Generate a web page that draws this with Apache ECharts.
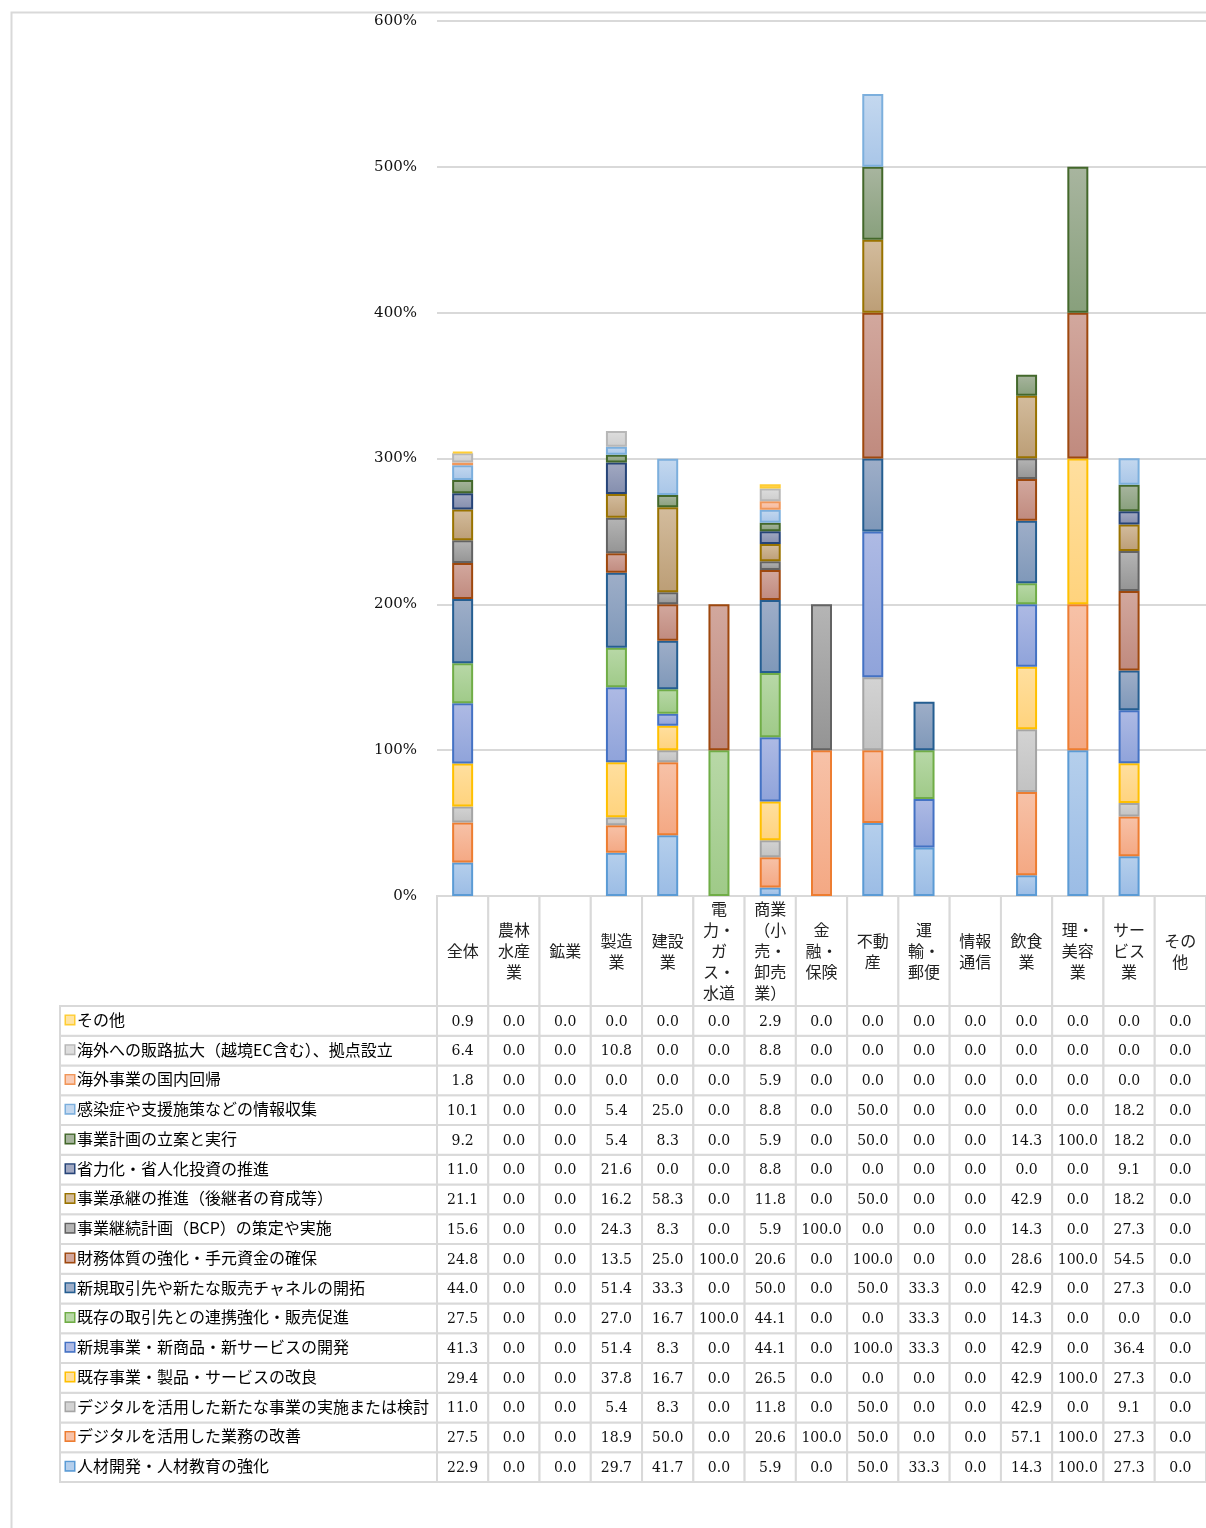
<!DOCTYPE html>
<html>
<head>
<meta charset="utf-8">
<script src="https://cdn.jsdelivr.net/npm/echarts@6.0.0/dist/echarts.min.js"></script>
<style>
html,body{margin:0;padding:0;background:#fff;}
#chart{width:1206px;height:1528px;}
</style>
</head>
<body>
<div id="chart"></div>
<script>
// ---- categories / tick labels ----
const categories = ['全体','農林水産業','鉱業','製造業','建設業','電力・ガス・水道','商業（小売・卸売業）','金融・保険','不動産','運輸・郵便','情報通信','飲食業','理・美容業','サービス業','その他'];
const headerLabels = ['全体','農林\n水産\n業','鉱業','製造\n業','建設\n業','電\n力・\nガ\nス・\n水道','商業\n（小\n売・\n卸売\n業）','金\n融・\n保険','不動\n産','運\n輸・\n郵便','情報\n通信','飲食\n業','理・\n美容\n業','サー\nビス\n業','その\n他'];
const yTickMax = 600;
const yTickStep = 100;

// ---- series values (%), one array per series, in category order ----
const jinzai       = [22.9,0,0,29.7,41.7,0,5.9,0,50.0,33.3,0,14.3,100.0,27.3,0];
const digiGyomu    = [27.5,0,0,18.9,50.0,0,20.6,100.0,50.0,0,0,57.1,100.0,27.3,0];
const digiJigyo    = [11.0,0,0,5.4,8.3,0,11.8,0,50.0,0,0,42.9,0,9.1,0];
const kizonKairyo  = [29.4,0,0,37.8,16.7,0,26.5,0,0,0,0,42.9,100.0,27.3,0];
const shinkiJigyo  = [41.3,0,0,51.4,8.3,0,44.1,0,100.0,33.3,0,42.9,0,36.4,0];
const kizonTorihiki= [27.5,0,0,27.0,16.7,100.0,44.1,0,0,33.3,0,14.3,0,0,0];
const shinkiTorihiki=[44.0,0,0,51.4,33.3,0,50.0,0,50.0,33.3,0,42.9,0,27.3,0];
const zaimu        = [24.8,0,0,13.5,25.0,100.0,20.6,0,100.0,0,0,28.6,100.0,54.5,0];
const bcp          = [15.6,0,0,24.3,8.3,0,5.9,100.0,0,0,0,14.3,0,27.3,0];
const shokei       = [21.1,0,0,16.2,58.3,0,11.8,0,50.0,0,0,42.9,0,18.2,0];
const shoryoku     = [11.0,0,0,21.6,0,0,8.8,0,0,0,0,0,0,9.1,0];
const keikaku      = [9.2,0,0,5.4,8.3,0,5.9,0,50.0,0,0,14.3,100.0,18.2,0];
const kansen       = [10.1,0,0,5.4,25.0,0,8.8,0,50.0,0,0,0,0,18.2,0];
const kaiki        = [1.8,0,0,0,0,0,5.9,0,0,0,0,0,0,0,0];
const kaigai       = [6.4,0,0,10.8,0,0,8.8,0,0,0,0,0,0,0,0];
const sonota       = [0.9,0,0,0,0,0,2.9,0,0,0,0,0,0,0,0];

// stacking order: bottom -> top
const seriesNames = [
  '人材開発・人材教育の強化',
  'デジタルを活用した業務の改善',
  'デジタルを活用した新たな事業の実施または検討',
  '既存事業・製品・サービスの改良',
  '新規事業・新商品・新サービスの開発',
  '既存の取引先との連携強化・販売促進',
  '新規取引先や新たな販売チャネルの開拓',
  '財務体質の強化・手元資金の確保',
  '事業継続計画（BCP）の策定や実施',
  '事業承継の推進（後継者の育成等）',
  '省力化・省人化投資の推進',
  '事業計画の立案と実行',
  '感染症や支援施策などの情報収集',
  '海外事業の国内回帰',
  '海外への販路拡大（越境EC含む）、拠点設立',
  'その他'
];
const seriesValues = [jinzai, digiGyomu, digiJigyo, kizonKairyo, shinkiJigyo, kizonTorihiki, shinkiTorihiki, zaimu, bcp, shokei, shoryoku, keikaku, kansen, kaiki, kaigai, sonota];

// ---- styles ----
const fillTop    = ['#b5cfec','#f7c2a8','#d3d3d3','#ffdf9f','#aebae4','#b8d8a7','#9eaec8','#d2a89e','#b5b5b5','#d3bc9d','#a2a9c2','#a8b59f','#c4d8ef','#f9cdb8','#dedede','#ffe4a3'];
const fillBottom = ['#9bbce5','#f4a883','#c2c2c2','#ffd37d','#8fa3da','#9fca88','#7f98b9','#c08a7e','#949494','#bc9e76','#848eae','#88a07c','#a9c6e8','#f6b799','#cdcdcd','#ffd87c'];
const borderCols = ['#5b9bd5','#ed7d31','#a5a5a5','#ffc000','#4472c4','#70ad47','#255e91','#9e480e','#636363','#997300','#264478','#43682b','#7cafdd','#f1975a','#b7b7b7','#ffcd33'];
const gridColor = '#d9d9d9';
const numFont = '"DejaVu Serif", "Liberation Serif", serif';
const cjkFont = '"Noto Sans CJK JP", "Noto Sans", sans-serif';

const chart = echarts.init(document.getElementById('chart'), null, {renderer:'canvas'});

function grad(i){
  return {type:'linear', x:0, y:0, x2:0, y2:1, colorStops:[{offset:0,color:fillTop[i]},{offset:1,color:fillBottom[i]}]};
}

const barSeries = seriesNames.map((name, i) => ({
  name: name,
  type: 'bar',
  stack: 'total',
  xAxisIndex: 0,
  yAxisIndex: 0,
  barWidth: 21,
  data: seriesValues[i].map(v => v === 0 ? null : v),
  itemStyle: { color: grad(i), borderColor: borderCols[i], borderWidth: 2 },
  z: 3
}));

function cellRect(c, s){
  return {type:'rect', shape:{x:c[0]-s[0]/2, y:c[1]-s[1]/2, width:s[0], height:s[1]},
    style:{fill:'#fff', stroke:gridColor, lineWidth:2}};
}

// header cells
const headerData = categories.map((c, j) => [j, 0]);
const headerSeries = {
  type:'custom', xAxisIndex:1, yAxisIndex:1, encode:{x:0,y:1},
  data: headerData,
  renderItem: function(params, api){
    const c = api.coord([api.value(0), api.value(1)]);
    const s = api.size([1,1]);
    return {type:'group', children:[
      cellRect(c, s),
      {type:'text', style:{text: headerLabels[params.dataIndex], x:c[0], y:c[1], align:'center', verticalAlign:'middle',
        fontFamily: cjkFont, fontSize:16, lineHeight:21, fill:'#222'}}
    ]};
  }
};

// value cells
const valueData = [];
seriesValues.forEach((arr, i) => arr.forEach((v, j) => valueData.push([j, i, v])));
const valueSeries = {
  type:'custom', xAxisIndex:2, yAxisIndex:2, encode:{x:0,y:1},
  data: valueData,
  renderItem: function(params, api){
    const c = api.coord([api.value(0), api.value(1)]);
    const s = api.size([1,1]);
    return {type:'group', children:[
      cellRect(c, s),
      {type:'text', style:{text: api.value(2).toFixed(1), x:c[0], y:c[1]+1, align:'center', verticalAlign:'middle',
        fontFamily: numFont, fontSize:14, fill:'#111'}}
    ]};
  }
};

// name cells with legend keys
const rich = { t: { fontFamily: cjkFont, fontSize: 16, color:'#222', padding:[0,0,0,3] } };
seriesNames.forEach((n, i) => {
  rich['k'+i] = { width:8, height:8, backgroundColor: fillTop[i], borderColor: borderCols[i], borderWidth:1.5 };
});
const nameData = seriesNames.map((n, i) => [0, i]);
const nameSeries = {
  type:'custom', xAxisIndex:3, yAxisIndex:3, encode:{x:0,y:1},
  data: nameData,
  renderItem: function(params, api){
    const c = api.coord([api.value(0), api.value(1)]);
    const s = api.size([1,1]);
    const i = params.dataIndex;
    return {type:'group', children:[
      cellRect(c, s),
      {type:'text', style:{text: '{k'+i+'|}{t|'+seriesNames[i]+'}', rich: rich, x:c[0]-s[0]/2+6, y:c[1]-1, align:'left', verticalAlign:'middle'}}
    ]};
  }
};

const hiddenAxis = { axisLine:{show:false}, axisTick:{show:false}, axisLabel:{show:false}, splitLine:{show:false} };

const option = {
  animation: false,
  backgroundColor: '#fff',
  graphic: [{
    type:'rect', left:9, top:10, z:-10,
    shape:{x:0, y:0, width:1230, height:1550},
    style:{fill:'none', stroke:gridColor, lineWidth:2}
  }],
  grid: [
    {left:437, top:21, width:769, height:875},
    {left:437, top:896, width:769, height:110},
    {left:437, top:1006, width:769, height:476},
    {left:60, top:1006, width:377, height:476}
  ],
  xAxis: [
    Object.assign({type:'category', gridIndex:0, data:categories}, hiddenAxis),
    Object.assign({type:'category', gridIndex:1, data:categories}, hiddenAxis),
    Object.assign({type:'category', gridIndex:2, data:categories}, hiddenAxis),
    Object.assign({type:'category', gridIndex:3, data:['']}, hiddenAxis)
  ],
  yAxis: [
    {type:'value', gridIndex:0, min:0, max:yTickMax, interval:yTickStep,
     axisLine:{show:false}, axisTick:{show:false},
     axisLabel:{formatter:'{value}%', margin:20, fontFamily:numFont, fontSize:15, color:'#111', padding:[3,0,0,0]},
     splitLine:{lineStyle:{color:gridColor, width:2}}},
    Object.assign({type:'category', gridIndex:1, data:['']}, hiddenAxis),
    Object.assign({type:'category', gridIndex:2, data:seriesNames}, hiddenAxis),
    Object.assign({type:'category', gridIndex:3, data:seriesNames}, hiddenAxis)
  ],
  series: barSeries.concat([headerSeries, valueSeries, nameSeries])
};
chart.setOption(option);
</script>
</body>
</html>
